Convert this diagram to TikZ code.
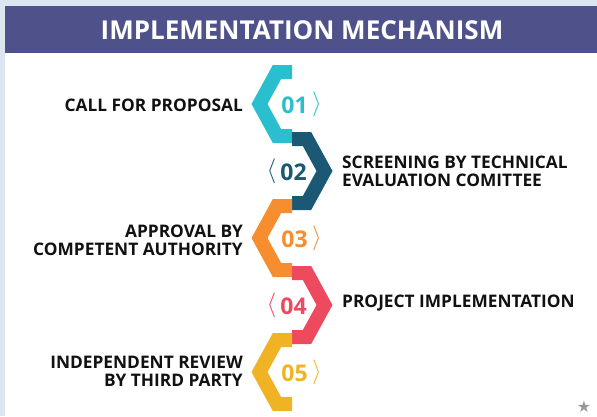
\documentclass[tikz,border=0pt]{standalone}
\usepackage{fontspec}
\setmainfont{Open Sans}
\newfontfamily\symfont{DejaVu Sans}
\usetikzlibrary{positioning}
\definecolor{Strip}{HTML}{DCE6F1}
\definecolor{Banner}{HTML}{4F528A}
\definecolor{Ink}{HTML}{111111}
\definecolor{Teal}{HTML}{2ABFCE}
\definecolor{Navy}{HTML}{1A5873}
\definecolor{Orange}{HTML}{F68E2F}
\definecolor{Rose}{HTML}{EE4A5F}
\definecolor{Amber}{HTML}{F0B323}
\tikzset{
  band/.style={line width=14pt,line join=miter,line cap=butt},
  titletext/.style={text=white,inner sep=0pt,font=\fontsize{26}{30}\selectfont\bfseries},
  steplabel/.style={text=Ink,inner sep=0pt,font=\fontsize{17.3}{18}\selectfont\bfseries},
  leftlabel/.style={steplabel,anchor=east,align=right},
  rightlabel/.style={steplabel,anchor=west,align=left},
  numtext/.style={inner sep=0pt,font=\fontsize{23}{26}\selectfont\bfseries},
  bracket/.style={inner sep=0pt,font=\fontsize{30}{32}\selectfont},
}

\begin{document}
\begin{tikzpicture}[x=1pt,y=-1pt]
    \useasboundingbox (0,0) rectangle (597,416);
    \fill[Strip] (0,0) rectangle (597,416);
    \fill[white] (5,53) rectangle (597,416);
    \fill[Banner] (5,6) rectangle (597,53);
    \node[titletext] (title) at (302,30) {IMPLEMENTATION MECHANISM};

    % zig-zag bands
    \draw[band,draw=Teal] (292,72) -- (277,72) -- (259.5,104) -- (277,136) -- (292,136);
    \draw[band,draw=Navy] (292,139) -- (307,139) -- (324.5,171) -- (307,203) -- (292,203);
    \draw[band,draw=Orange] (292,206) -- (277,206) -- (259.5,238) -- (277,270) -- (292,270);
    \draw[band,draw=Rose] (292,273) -- (307,273) -- (324.5,305) -- (307,337) -- (292,337);
    \draw[band,draw=Amber] (292,340) -- (277,340) -- (259.5,372) -- (277,404) -- (292,404);

    \node[numtext,text=Teal] (num1) at (294.5,105.5) {01};
    \node[bracket,text=Teal] (br1) at (317,104) {$\rangle$};
    \node[numtext,text=Navy] (num2) at (293.5,172) {02};
    \node[bracket,text=Navy] (br2) at (271.5,171) {$\langle$};
    \node[numtext,text=Orange] (num3) at (294.5,239.5) {03};
    \node[bracket,text=Orange] (br3) at (317,238) {$\rangle$};
    \node[numtext,text=Rose] (num4) at (293.5,306) {04};
    \node[bracket,text=Rose] (br4) at (271.5,305) {$\langle$};
    \node[numtext,text=Amber] (num5) at (294.5,373.5) {05};
    \node[bracket,text=Amber] (br5) at (317,372) {$\rangle$};

    \node[leftlabel] (call) at (243,105) {CALL FOR PROPOSAL};
    \node[rightlabel] (screen) at (342,171.5) {SCREENING BY TECHNICAL\\EVALUATION COMITTEE};
    \node[leftlabel] (approval) at (243,240) {APPROVAL BY\\COMPETENT AUTHORITY};
    \node[rightlabel] (project) at (342,303.5) {PROJECT IMPLEMENTATION};
    \node[leftlabel] (review) at (243,371) {INDEPENDENT REVIEW\\BY THIRD PARTY};

    \node[text=gray!80,inner sep=0pt,font=\symfont\fontsize{16}{16}\selectfont] (star) at (584,407) {★};
  \end{tikzpicture}
\end{document}
